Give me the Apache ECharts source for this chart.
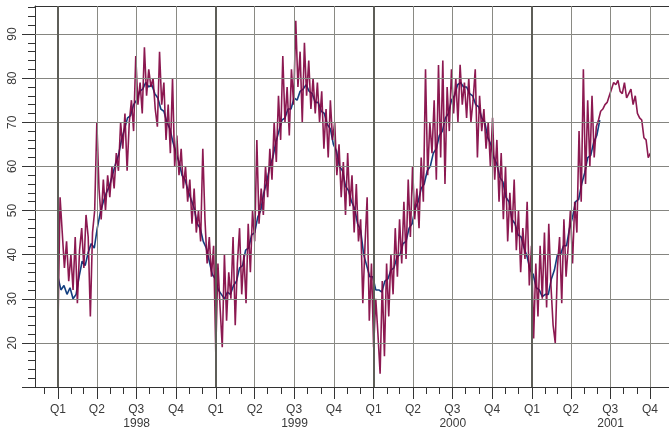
<!DOCTYPE html>
<html>
<head>
<meta charset="utf-8">
<script src="https://cdn.jsdelivr.net/npm/echarts@6/dist/echarts.min.js"></script>
<style>
  html, body { margin: 0; padding: 0; background: #fff; }
  #main { width: 669px; height: 431px; }
</style>
</head>
<body>
<div id="main"></div>
<script>
var DAY = 86400000;
var seriesStart = Date.UTC(1998, 0, 1);
var smoothStep = 7;   // days between points of the blue line
var rawStep = 5;      // days between points of the red line

// blue line, weekly from 1 Jan 1998
var smoothValues = [
  35, 32, 33, 31, 32.5, 30, 31, 35, 38.5, 37.5,
  40.5, 42.5, 41.5, 46, 49.5, 52, 54, 55.5, 58, 60.5,
  62.5, 66, 68.5, 71, 71.5, 74, 75, 77, 77.5, 79,
  78, 78.5, 76.5, 75.5, 73, 72.5, 70, 68.5, 65.5, 63,
  61, 58, 57, 54.5, 52.5, 50.5, 47, 46, 43, 41.5,
  38.5, 35.5, 34.5, 32, 31, 30, 31.5, 31, 33, 34,
  37, 37.5, 41, 41.5, 44.5, 45, 48.5, 50, 54, 56.5,
  60, 62, 65.5, 68, 70.5, 71, 73, 73, 75.5, 75,
  77, 77.5, 78.5, 77, 76.5, 74.5, 74.5, 72.5, 72, 69.5,
  68.5, 65, 63.5, 60, 59, 55.5, 54.5, 52, 50.5, 47,
  45.5, 40, 37.5, 35, 35, 32, 32, 31.5, 34, 34.5,
  36.5, 37, 39.5, 40, 42.5, 43, 46, 47, 50.5, 52,
  55, 56, 59, 60, 63, 64, 67, 68, 71, 72,
  75, 76, 78.5, 79, 78, 78, 76.5, 76, 74, 73.5,
  71, 70, 66.5, 65, 62, 60.5, 57.5, 56.5, 53, 52,
  48, 47, 44.5, 44, 41.5, 39.5, 36.5, 35.5, 32.5, 32,
  30.5, 31, 31, 34.5, 36.5, 40, 40, 42, 42, 46,
  48.5, 52, 52.5, 56, 58.5, 62, 62.5, 65.5, 67, 70.5
];

// red line, every 5 days from 1 Jan 1998
var rawValues = [
  23, 53, 45, 37, 43, 34, 40, 32, 44, 29,
  41, 46, 37, 49, 44, 26, 45, 50, 70, 55,
  48, 57, 50, 58, 53, 60, 55, 63, 59, 70,
  64, 72, 59, 70, 75, 68, 85, 74, 79, 72,
  87, 76, 82, 78, 80, 73, 69, 86, 74, 79,
  66, 74, 63, 80, 60, 67, 58, 64, 55, 60,
  52, 57, 47, 55, 45, 50, 43, 64, 48, 38,
  44, 35, 42, 18, 38, 28, 19, 40, 25, 36,
  30, 44, 24, 38, 46, 31, 40, 29, 47, 36,
  50, 43, 66, 47, 55, 49, 60, 53, 64, 57,
  70, 61, 76, 66, 85, 70, 78, 67, 82, 74,
  93, 78, 86, 70, 88, 76, 84, 73, 80, 72,
  79, 70, 77, 64, 73, 62, 75, 66, 70, 58,
  65, 53, 61, 49, 63, 51, 58, 45, 56, 43,
  48, 29, 42, 53, 25, 38, 19, 30, 22, 13,
  34, 17, 38, 26, 40, 31, 46, 35, 48, 38,
  52, 39, 57, 44, 60, 48, 55, 46, 62, 52,
  82, 58, 70, 63, 75, 57, 83, 62, 84, 56,
  78, 68, 82, 72, 80, 70, 83, 74, 79, 71,
  80, 70, 75, 82, 62, 76, 68, 73, 64, 70,
  60, 71, 57, 66, 52, 63, 48, 60, 43, 54,
  45, 57, 41, 50, 36, 46, 39, 52, 33, 42,
  21, 38, 26, 42, 30, 45, 28, 47, 33, 24,
  20, 37, 44, 29, 48, 35, 42, 50, 38, 52,
  45, 68, 52, 82, 56, 75, 60, 76, 62, 69,
  70.5, 72.5, 73, 74, 74.5, 76, 77.5, 79, 78.5, 79.5,
  77, 76.5, 79, 75.5, 76.5, 77.5, 74, 76, 72, 71,
  70.5, 66.5, 66, 62, 63
];

var years = [1998, 1999, 2000, 2001];
var quarterNames = ['Q1', 'Q2', 'Q3', 'Q4'];
var yGridValues = [20, 30, 40, 50, 60, 70, 80, 90];
var yMajorTicks = [10, 20, 30, 40, 50, 60, 70, 80, 90];
var yLabelValues = [20, 30, 40, 50, 60, 70, 80, 90];

var xMin = Date.UTC(1997, 10, 9);
var xMax = Date.UTC(2001, 10, 14);
var yMin = 10, yMax = 96.35;

function toPairs(values, step) {
  return values.map(function (v, i) { return [seriesStart + i * step * DAY, v]; });
}

// tick positions
var monthTicks = [];
for (var m = 11; m <= 46 + 11; m++) {
  var t = Date.UTC(1997, m, 1);
  if (t >= xMin && t <= xMax) monthTicks.push(t);
}
var quarterTicks = [];
years.forEach(function (y) {
  for (var q = 0; q < 4; q++) quarterTicks.push(Date.UTC(y, q * 3, 1));
});
var yearLabelPos = years.map(function (y) { return Date.UTC(y, 6, 2); });
var yMinorTicks = [];
for (var v = 12; v <= 96; v += 2) if (v % 10 !== 0) yMinorTicks.push(v);

var gridLines = [];
yGridValues.forEach(function (v) {
  gridLines.push({ yAxis: v, lineStyle: { color: '#858580', width: 1, type: 'solid' } });
});
quarterTicks.forEach(function (t) {
  var isYear = new Date(t).getUTCMonth() === 0;
  gridLines.push({ xAxis: t, lineStyle: isYear ? { color: '#5e5e58', width: 2, type: 'solid' } : { color: '#8a8a84', width: 1, type: 'solid' } });
});

var labelFont = { fontFamily: 'Liberation Sans, Arial, sans-serif', fontSize: 12, color: '#3a3a3a' };

var chart = echarts.init(document.getElementById('main'));
chart.setOption({
  animation: false,
  backgroundColor: '#ffffff',
  grid: { left: 35, right: 0, top: 6, bottom: 44 },
  xAxis: [
    { // axis line and monthly ticks
      type: 'value', min: xMin, max: xMax, position: 'bottom',
      axisLine: { show: true, lineStyle: { color: '#333', width: 1 } },
      axisTick: { show: true, customValues: monthTicks, length: 7, lineStyle: { color: '#333' } },
      axisLabel: { show: false }, splitLine: { show: false }
    },
    { // quarter ticks and labels
      type: 'value', min: xMin, max: xMax, position: 'bottom',
      axisLine: { show: false },
      axisTick: { show: true, customValues: quarterTicks, length: 12, lineStyle: { color: '#333' } },
      axisLabel: Object.assign({
        show: true, customValues: quarterTicks, margin: 17,
        formatter: function (val) { return quarterNames[Math.floor(new Date(val).getUTCMonth() / 3)]; }
      }, labelFont),
      splitLine: { show: false }
    },
    { // year labels
      type: 'value', min: xMin, max: xMax, position: 'bottom',
      axisLine: { show: false }, axisTick: { show: false },
      axisLabel: Object.assign({
        show: true, customValues: yearLabelPos, margin: 31,
        formatter: function (val) { return String(new Date(val).getUTCFullYear()); }
      }, labelFont),
      splitLine: { show: false }
    },
    { // top border
      type: 'value', min: xMin, max: xMax, position: 'top',
      axisLine: { show: true, lineStyle: { color: '#333', width: 1 } },
      axisTick: { show: false }, axisLabel: { show: false }, splitLine: { show: false }
    }
  ],
  yAxis: [
    {
      type: 'value', min: yMin, max: yMax, position: 'left',
      axisLine: { show: true, lineStyle: { color: '#333', width: 1 } },
      axisTick: { show: true, customValues: yMajorTicks, length: 13, lineStyle: { color: '#333' } },
      axisLabel: Object.assign({ show: true, customValues: yLabelValues, rotate: 90, margin: 16 }, labelFont),
      splitLine: { show: false }
    },
    {
      type: 'value', min: yMin, max: yMax, position: 'left',
      axisLine: { show: false },
      axisTick: { show: true, customValues: yMinorTicks, length: 7, lineStyle: { color: '#333' } },
      axisLabel: { show: false }, splitLine: { show: false }
    }
  ],
  series: [
    {
      name: 'grid', type: 'line', data: [], silent: true, z: 1,
      markLine: { silent: true, symbol: 'none', animation: false, label: { show: false }, data: gridLines }
    },
    {
      name: 'Average', type: 'line', data: toPairs(smoothValues, smoothStep),
      showSymbol: false, z: 2, lineStyle: { color: '#123f80', width: 1.6 }
    },
    {
      name: 'Actual', type: 'line', data: toPairs(rawValues, rawStep),
      showSymbol: false, z: 3, lineStyle: { color: 'rgba(128,0,62,0.9)', width: 1.6 }
    }
  ]
});
</script>
</body>
</html>
